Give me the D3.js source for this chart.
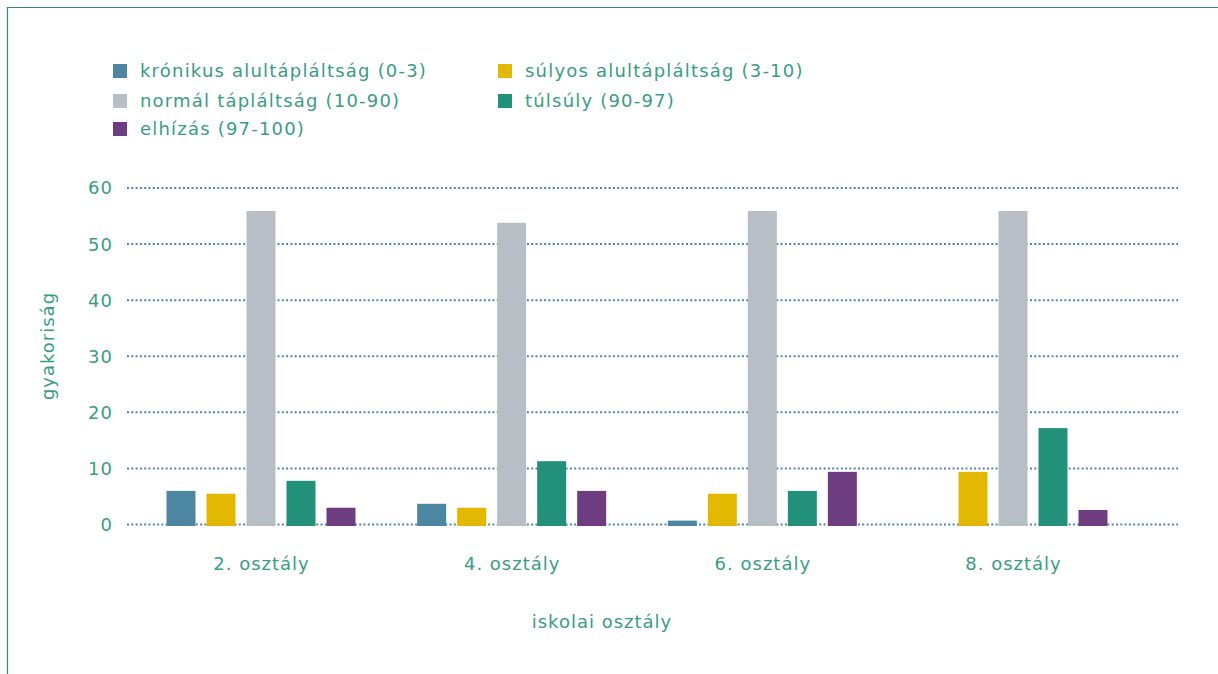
<!DOCTYPE html>
<html>
<head>
<meta charset="utf-8">
<script src="https://cdn.jsdelivr.net/npm/d3@7"></script>
<style>
  html, body { margin: 0; padding: 0; background: #fff; }
  svg { display: block; }
  text { font-family: "DejaVu Sans", "Noto Sans", sans-serif; fill: #3a9c86; }
</style>
</head>
<body>
<svg id="chart" width="1218" height="674"></svg>
<script>
const categories = ["2. osztály", "4. osztály", "6. osztály", "8. osztály"];
const seriesNames = [
  "krónikus alultápláltság (0-3)",
  "súlyos alultápláltság (3-10)",
  "normál tápláltság (10-90)",
  "túlsúly (90-97)",
  "elhízás (97-100)"
];
const seriesColors = ["#4d86a1", "#e3b800", "#b8bec6", "#23907a", "#6e3c80"];
const chronic = [5.9, 3.6, 0.6, 0];
const severe = [5.4, 2.9, 5.4, 9.3];
const normal = [55.8, 53.7, 55.8, 55.8];
const overweight = [7.7, 11.2, 5.9, 17.1];
const obese = [2.9, 5.9, 9.3, 2.5];
const seriesValues = [chronic, severe, normal, overweight, obese];
const yTicks = [0, 10, 20, 30, 40, 50, 60];
const yTitle = "gyakoriság";
const xTitle = "iskolai osztály";

const svg = d3.select("#chart");

// frame
svg.append("path")
  .attr("d", "M7.5,674 L7.5,7.5 L1218,7.5")
  .attr("fill", "none").attr("stroke", "#2e8c77").attr("stroke-width", 1.2);

const y = d3.scaleLinear().domain([0, 60]).range([524, 187.5]);
const x0 = d3.scalePoint().domain(categories).range([261, 1013]);
const x1 = d3.scaleBand().domain(d3.range(seriesNames.length)).range([-100, 100]).paddingInner(0.275).paddingOuter(0.1375);
const gridX0 = 127, gridX1 = 1178;

// grid
const yAxis = d3.axisLeft(y).tickValues(yTicks).tickSize(-(gridX1 - gridX0)).tickPadding(14).tickFormat(d3.format("d"));
const gy = svg.append("g").attr("transform", `translate(${gridX0},0)`).call(yAxis);
gy.select(".domain").remove();
gy.selectAll(".tick line")
  .attr("stroke", "#4f87a3").attr("stroke-width", 2).attr("stroke-dasharray", "2,2.3");
gy.selectAll(".tick text")
  .attr("font-size", 18).style("font-family", "'DejaVu Sans', sans-serif").style("fill", "#3a9c86")
  .style("letter-spacing", "1px").attr("dy", "0.36em");

// bars
const groups = svg.append("g").selectAll("g")
  .data(categories).join("g")
  .attr("transform", d => `translate(${x0(d)},0)`);
groups.selectAll("rect")
  .data((c, ci) => seriesValues.map((vals, si) => ({ si, v: vals[ci] })))
  .join("rect")
  .filter(d => d.v > 0)
  .attr("x", d => x1(d.si))
  .attr("width", x1.bandwidth())
  .attr("y", d => y(d.v))
  .attr("height", d => y(0) - y(d.v) + 2)
  .attr("fill", d => seriesColors[d.si]);

// x axis labels
const xAxis = d3.axisBottom(x0).tickSize(0).tickPadding(0);
const gx = svg.append("g").attr("transform", `translate(0,570)`).call(xAxis);
gx.select(".domain").remove();
gx.selectAll(".tick text").attr("font-size", 18).style("font-family", "'DejaVu Sans', sans-serif")
  .style("fill", "#3a9c86").style("letter-spacing", "1px").attr("dy", 0);

// axis titles
svg.append("text").attr("x", 602).attr("y", 628).attr("text-anchor", "middle")
  .attr("font-size", 18).style("letter-spacing", "1px").text(xTitle);
svg.append("text").attr("transform", "translate(54,346) rotate(-90)").attr("text-anchor", "middle")
  .attr("font-size", 18).style("letter-spacing", "1px").text(yTitle);

// legend
const legendCols = [113, 498];
const legendRows = [71, 101, 129];
const legend = svg.append("g").selectAll("g")
  .data(seriesNames).join("g")
  .attr("transform", (d, i) => `translate(${legendCols[i % 2]},${legendRows[Math.floor(i / 2)]})`);
legend.append("rect").attr("x", 0).attr("y", -7).attr("width", 14).attr("height", 14)
  .attr("fill", (d, i) => seriesColors[i]);
legend.append("text").attr("x", 27).attr("y", 0).attr("dy", "0.36em")
  .attr("font-size", 18).style("letter-spacing", "1.2px").text(d => d);
</script>
</body>
</html>
